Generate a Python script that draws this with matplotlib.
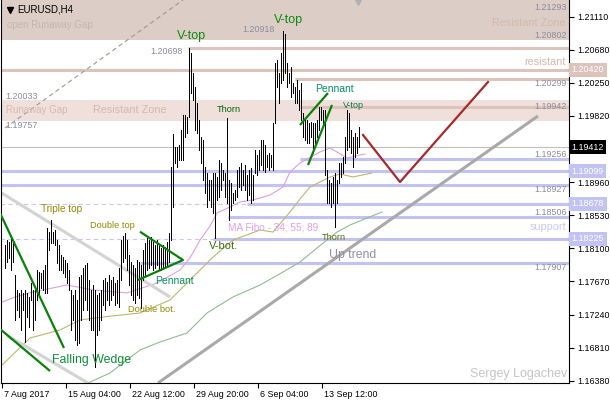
import numpy as np
import matplotlib
matplotlib.use("Agg")
import matplotlib.pyplot as plt
from matplotlib.transforms import Affine2D, blended_transform_factory, ScaledTranslation

# ---------------- data ----------------
highs = [1.1814, 1.1821, 1.1818, 1.1824, 1.1817, 1.1775, 1.1756, 1.1752, 1.1756, 1.1752,
         1.1756, 1.1752, 1.1747, 1.1765, 1.1756, 1.1760, 1.1782, 1.1779, 1.1778, 1.1782,
         1.1788, 1.1837, 1.1831, 1.1847, 1.1831, 1.1834, 1.1821, 1.1814, 1.1801, 1.1799,
         1.1795, 1.1791, 1.1782, 1.1756, 1.1749, 1.1756, 1.1743, 1.1773, 1.1775, 1.1785,
         1.1788, 1.1791, 1.1769, 1.1756, 1.1762, 1.1756, 1.1749, 1.1752, 1.1756, 1.1769,
         1.1771, 1.1766, 1.1775, 1.1769, 1.1773, 1.1765, 1.1769, 1.1785, 1.1821, 1.1826,
         1.1830, 1.1821, 1.1801, 1.1792, 1.1788, 1.1785, 1.1795, 1.1792, 1.1788, 1.1808,
         1.1817, 1.1824, 1.1821, 1.1825, 1.1818, 1.1814, 1.1821, 1.1814, 1.1810, 1.1814,
         1.1812, 1.1818, 1.1830, 1.1916, 1.1959, 1.1942, 1.1942, 1.1944, 1.1964, 1.1983,
         1.1983, 1.1981, 1.2070, 1.2064, 1.2038, 1.2020, 1.1999, 1.1977, 1.1955, 1.1951,
         1.1916, 1.1908, 1.1899, 1.1899, 1.1908, 1.1908, 1.1903, 1.1925, 1.1921, 1.1912,
         1.1908, 1.1979, 1.1899, 1.1895, 1.1882, 1.1886, 1.1912, 1.1916, 1.1921, 1.1912,
         1.1918, 1.1905, 1.1912, 1.1914, 1.1905, 1.1938, 1.1931, 1.1938, 1.1951, 1.1951,
         1.1944, 1.1931, 1.1934, 1.1931, 1.1973, 1.2051, 1.2055, 1.2038, 1.2064, 1.2092,
         1.2088, 1.2051, 1.2038, 1.2046, 1.2025, 1.2020, 1.2029, 1.2016, 1.2025, 1.1986,
         1.1977, 1.1977, 1.1973, 1.1974, 1.1973, 1.1973, 1.1977, 1.1994, 1.1994, 1.1990,
         1.1990, 1.1912, 1.1899, 1.1895, 1.1903, 1.1908, 1.1899, 1.1921, 1.1921, 1.1929,
         1.1955, 1.1990, 1.1986, 1.1964, 1.1955, 1.1960, 1.1955, 1.1968]
lows = [1.1785, 1.1792, 1.1797, 1.1782, 1.1792, 1.1717, 1.1730, 1.1721, 1.1704, 1.1730,
        1.1688, 1.1721, 1.1708, 1.1743, 1.1704, 1.1717, 1.1743, 1.1749, 1.1758, 1.1756,
        1.1752, 1.1752, 1.1808, 1.1817, 1.1817, 1.1814, 1.1791, 1.1782, 1.1782, 1.1778,
        1.1773, 1.1765, 1.1756, 1.1704, 1.1717, 1.1691, 1.1684, 1.1687, 1.1717, 1.1730,
        1.1743, 1.1730, 1.1717, 1.1704, 1.1704, 1.1656, 1.1697, 1.1704, 1.1717, 1.1736,
        1.1730, 1.1743, 1.1736, 1.1743, 1.1749, 1.1736, 1.1739, 1.1734, 1.1769, 1.1792,
        1.1797, 1.1782, 1.1762, 1.1749, 1.1743, 1.1739, 1.1749, 1.1745, 1.1732, 1.1769,
        1.1775, 1.1782, 1.1785, 1.1788, 1.1782, 1.1785, 1.1788, 1.1782, 1.1782, 1.1785,
        1.1785, 1.1788, 1.1792, 1.1821, 1.1864, 1.1921, 1.1916, 1.1925, 1.1925, 1.1925,
        1.1955, 1.1960, 1.1981, 1.2012, 1.2003, 1.1964, 1.1960, 1.1938, 1.1921, 1.1899,
        1.1882, 1.1864, 1.1873, 1.1864, 1.1856, 1.1824, 1.1873, 1.1877, 1.1886, 1.1899,
        1.1877, 1.1869, 1.1847, 1.1860, 1.1869, 1.1873, 1.1877, 1.1890, 1.1886, 1.1892,
        1.1886, 1.1873, 1.1879, 1.1869, 1.1873, 1.1908, 1.1905, 1.1912, 1.1918, 1.1912,
        1.1909, 1.1916, 1.1912, 1.1916, 1.1912, 1.1973, 1.2020, 1.1999, 1.2025, 1.2029,
        1.2038, 1.2020, 1.2025, 1.2007, 1.2012, 1.1999, 1.1999, 1.1990, 1.1977, 1.1955,
        1.1951, 1.1947, 1.1947, 1.1955, 1.1934, 1.1947, 1.1955, 1.1964, 1.1977, 1.1968,
        1.1905, 1.1869, 1.1869, 1.1864, 1.1869, 1.1838, 1.1869, 1.1895, 1.1903, 1.1908,
        1.1921, 1.1938, 1.1942, 1.1934, 1.1916, 1.1929, 1.1934, 1.1942]

xtick_labels = ["7 Aug 2017", "15 Aug 04:00", "22 Aug 12:00", "29 Aug 20:00", "6 Sep 04:00", "13 Sep 12:00"]
xtick_bars = [-1, 31, 63, 95, 127, 159]
ytick_values = [1.21110, 1.20680, 1.20250, 1.19820, 1.19390, 1.18960, 1.18530,
                1.18100, 1.17670, 1.17240, 1.16810, 1.16380]
last_price = 1.19412

# moving averages (bar index, price)
ma34_x = [-2, 5.5, 14.5, 31.5, 44.5, 61.5, 76.5, 88, 93, 98, 103, 106.5, 113, 118, 124.5,
          133, 139.5, 143, 148, 158, 163, 166.5, 171.5, 180.5]
ma34_y = [1.17390, 1.17468, 1.17533, 1.17623, 1.17559, 1.17520, 1.17649, 1.17818, 1.17974,
          1.18208, 1.18390, 1.18559, 1.18637, 1.18702, 1.18728, 1.18793, 1.18897, 1.19092,
          1.19209, 1.19352, 1.19404, 1.19352, 1.19274, 1.19326]
ma55_x = [-2, 13, 28, 38, 49.5, 68, 83, 98, 104.5, 114.5, 128, 134.5, 143, 148, 153, 163,
          168, 174.5, 184]
ma55_y = [1.16558, 1.16935, 1.17039, 1.17169, 1.17208, 1.17260, 1.17429, 1.17818, 1.17987,
          1.18208, 1.18338, 1.18312, 1.18572, 1.18741, 1.18897, 1.19027, 1.19066, 1.19027,
          1.19079]
ma89_x = [42, 53, 68, 78, 91.5, 101.5, 114.5, 128, 139.5, 148, 156.5, 166.5, 173, 181.5, 189]
ma89_y = [1.16350, 1.16480, 1.16779, 1.16883, 1.17000, 1.17260, 1.17468, 1.17623, 1.17792,
          1.17922, 1.18104, 1.18312, 1.18403, 1.18494, 1.18572]

# zones (price bottom, price top)
zone_top = (1.20802, 1.21400)
zone_gap = (1.19757, 1.20033)
# resistance lines: (price, start bar)
res_prices = [1.20698, 1.20420, 1.20299, 1.19942]
res_start = [92, -2, 145.5, 148]
# support lines
sup_prices = [1.19256, 1.19099, 1.18927, 1.18678, 1.18506, 1.18225, 1.17907]
sup_start = [148, -2, -2, 121.5, 112, 104.5, 68]
sup_dash_prices = [1.18678, 1.18225]
sup_dash_end = [121.5, 104.5]

# trend lines (bar index, price)
dashed_diag = ([0.5, 89.5], [1.19664, 1.21327])
chan_upper = ([-2, 83], [1.18832, 1.17468])
chan_lower = ([2, 42], [1.16961, 1.16350])
uptrend = ([77, 267], [1.16350, 1.19820])
wedge1 = ([-2, 30], [1.18559, 1.16805])
wedge2 = ([-2, 23], [1.17052, 1.16506])
pennant1 = ([68, 89.5, 67], [1.18316, 1.17948, 1.17688])
pennant2a = ([148, 162], [1.19703, 1.20118])
pennant2b = ([152, 164], [1.19183, 1.19963])
forecast = ([179.5, 198, 242], [1.19573, 1.18962, 1.20261])

# ---------------- figure ----------------
W, H = 610, 400
fig = plt.figure(figsize=(W / 100, H / 100), dpi=100)
fig.patch.set_facecolor("white")
ax = fig.add_axes([1 / W, 17 / H, 568 / W, 383 / H])
ax.set_xlim(-1.5, 282.5)
ax.set_ylim(1.16350, 1.21327)
ax.set_facecolor("white")

FONT = "Liberation Sans"
pix = Affine2D().scale(1 / W, -1 / H).translate(0, 1) + fig.transFigure
bt = blended_transform_factory(ax.transAxes, ax.transData)
xend = 282.5

# zones
ax.axhspan(*zone_top, color="#dccdc6", zorder=0, lw=0)
ax.axhspan(*zone_gap, color="#f0e0dc", zorder=0, lw=0)
for p, s in zip(res_prices, res_start):
    ax.plot([s, xend], [p, p], color="#dcc3bc", lw=2.2, zorder=1, solid_capstyle="butt")

# support lines
for p, s in zip(sup_prices, sup_start):
    ax.plot([s, xend], [p, p], color="#c3c3f3", lw=2.2, zorder=1, solid_capstyle="butt")
for p, e in zip(sup_dash_prices, sup_dash_end):
    ax.plot([-2, e], [p, p], color="#c8c8f2", lw=0.8, ls=(0, (4, 3)), zorder=1)

ax.axhline(last_price, color="#c0c0c0", lw=0.8, zorder=1)

# moving averages
ax.plot(ma34_x, ma34_y, color="#dda0dd", lw=0.8, zorder=2)
ax.plot(ma55_x, ma55_y, color="#bdb76b", lw=0.8, zorder=2)
ax.plot(ma89_x, ma89_y, color="#8fbc8f", lw=0.8, zorder=2)

# trend lines behind bars
ax.plot(*dashed_diag, color="#9a9a8a", lw=0.8, ls=(0, (4, 3)), zorder=2)
ax.plot(*chan_upper, color="#d3d3d3", lw=2.2, zorder=2, solid_capstyle="butt")
ax.plot(*chan_lower, color="#d3d3d3", lw=2.2, zorder=2, solid_capstyle="butt")
ax.plot(*uptrend, color="#a9a9a9", lw=2.2, zorder=2, solid_capstyle="butt")

# bars
idx = np.arange(len(highs))
ax.vlines(idx + 0.25, lows, highs, color="black", lw=0.72, zorder=3, antialiased=False)

# green / red patterns
for ln in (wedge1, wedge2, pennant1, pennant2a, pennant2b):
    ax.plot(*ln, color="#0a800a", lw=1.6, zorder=4, solid_capstyle="butt")
ax.plot(*forecast, color="#a52a2a", lw=1.6, zorder=4)

# shift marker
ax.plot([177], [1.21300], marker="v", color="#b0b0b0", ms=4, zorder=5, clip_on=False)

# axes style
ax.spines["top"].set_visible(False)
for sp in ("left", "right", "bottom"):
    ax.spines[sp].set_color("black")
    ax.spines[sp].set_linewidth(0.8)
ax.yaxis.tick_right()
ax.set_yticks(ytick_values)
ax.set_yticklabels(["" if abs(v - 1.19390) < 1e-6 else f"{v:.5f}" for v in ytick_values],
                   fontfamily=FONT, fontsize=6.4)
ax.tick_params(axis="y", direction="out", length=3.5, width=0.8, pad=2.5, colors="black")
ax.set_xticks(xtick_bars)
ax.set_xticklabels(xtick_labels, fontfamily=FONT, fontsize=6.4, ha="left")
ax.tick_params(axis="x", direction="out", length=3.5, width=0.8, pad=1.5, colors="black")
for lab in ax.get_xticklabels():
    lab.set_transform(lab.get_transform() + ScaledTranslation(2 / 100, 0, fig.dpi_scale_trans))

# right-axis price boxes
boxes = [(1.20420, "#dcc3bc", "white"), (1.19412, "black", "white"),
         (1.19099, "#c3c3f3", "white"), (1.18678, "#c3c3f3", "white"),
         (1.18225, "#c3c3f3", "white")]
for p, fc, tc in boxes:
    ax.text(1.0045, p, f"{p:.5f}", transform=bt, ha="left", va="center", fontfamily=FONT,
            fontsize=6.4, color=tc, clip_on=False,
            bbox=dict(boxstyle="square,pad=0.28", fc=fc, ec="none"))

# small price labels near lines
grey = "#8c8c9c"
price_labels = [(1.21293, "top"), (1.20802, "bottom"), (1.20299, "top"), (1.19942, "center"),
                (1.19256, "bottom"), (1.18927, "top"), (1.18506, "bottom"), (1.17907, "top")]
for p, va in price_labels:
    ax.text(0.9965, p, f"{p:.5f}", transform=bt, ha="right", va=va, fontfamily=FONT,
            fontsize=6.4, color=grey)


def ptxt(x, y, s, color, size, ha="left", **kw):
    fig.text(x, y, s, transform=pix, ha=ha, va="center", color=color, fontsize=size,
             fontfamily=FONT, **kw)


ptxt(5, 96.5, "1.20033", grey, 6.4)
ptxt(5, 125, "1.19757", grey, 6.4)
ptxt(183, 51.5, "1.20698", grey, 6.4, ha="right")
ptxt(275, 29, "1.20918", grey, 6.4, ha="right")

ptxt(17, 10, "EURUSD,H4", "black", 7)
ax.plot([0.0165], [0.974], marker="v", color="black", ms=4, transform=ax.transAxes, clip_on=False)
ptxt(7, 24.5, "open Runaway Gap", "#c6b6ae", 7)
ptxt(6, 110, "Runaway Gap", "#d6b8b0", 7)
ptxt(93, 110, "Resistant Zone", "#d4b8ac", 7.8)
ptxt(566, 22.5, "Resistant Zone", "#d4b8ac", 7.8, ha="right")
ptxt(566, 62, "resistant", "#d4b8ac", 7.8, ha="right")
ptxt(566, 226.5, "support", "#c8c8f0", 7.8, ha="right")
ptxt(567, 374.5, "Sergey Logachev", "#c4c4c4", 9, ha="right")

green = "#108a10"
ptxt(177, 36, "V-top", green, 9)
ptxt(274, 19.5, "V-top", green, 9)
ptxt(343, 105.5, "V-top", "#087850", 6.5)
ptxt(315, 89, "Pennant", "#089060", 7.5)
ptxt(155, 281, "Pennant", "#089060", 7.5)
ptxt(217, 110, "Thorn", "#006400", 6.6)
ptxt(322, 238, "Thorn", "#5a7010", 6.6)
olive = "#948a00"
ptxt(41, 209, "Triple top", olive, 7.2)
ptxt(90, 225, "Double top", olive, 6.7)
ptxt(128, 309, "Double bot.", olive, 6.7)
ptxt(209, 246, "V-bot.", "#406b10", 8)
ptxt(52, 360.5, "Falling Wedge", "#10903a", 8.9)
ptxt(228, 227.5, "MA Fibo - 34; 55; 89", "#e0a0e0", 7.2)
ptxt(329, 255, "Up trend", "#9090a0", 8.8)

fig.savefig("out.png", dpi=100)
